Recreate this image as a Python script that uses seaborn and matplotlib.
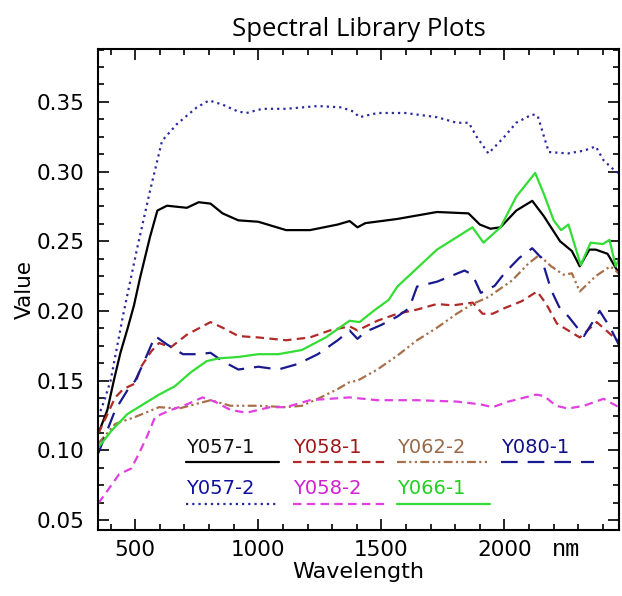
import numpy as np
import pandas as pd
import matplotlib.pyplot as plt
import seaborn as sns
from matplotlib.ticker import MultipleLocator

# spectra (wavelength nm, value)
wl_y057_1 = [350, 387, 413, 440, 470, 495, 520, 560, 590, 629, 710, 758, 806, 855, 919, 1000, 1113, 1210,
             1323, 1371, 1403, 1435, 1565, 1726, 1854, 1900, 1943, 1984, 2048, 2113, 2160, 2226, 2274,
             2306, 2345, 2371, 2419, 2465]
val_y057_1 = [0.112, 0.129, 0.150, 0.170, 0.188, 0.204, 0.224, 0.253, 0.272, 0.2755, 0.274, 0.278, 0.277,
              0.270, 0.265, 0.264, 0.258, 0.258, 0.262, 0.2645, 0.260, 0.263, 0.266, 0.271, 0.270, 0.262,
              0.259, 0.260, 0.272, 0.279, 0.268, 0.250, 0.243, 0.232, 0.244, 0.244, 0.241, 0.227]

wl_y058_1 = [350, 419, 452, 500, 524, 565, 597, 645, 710, 806, 855, 919, 1000, 1113, 1210, 1290, 1371,
             1403, 1484, 1565, 1645, 1726, 1790, 1871, 1911, 1952, 2000, 2070, 2133, 2170, 2213, 2306,
             2375, 2420, 2465]
val_y058_1 = [0.112, 0.138, 0.144, 0.148, 0.160, 0.171, 0.177, 0.174, 0.183, 0.192, 0.188, 0.182, 0.181,
              0.179, 0.181, 0.186, 0.189, 0.186, 0.193, 0.198, 0.201, 0.205, 0.204, 0.206, 0.198, 0.198,
              0.202, 0.207, 0.214, 0.205, 0.191, 0.181, 0.192, 0.185, 0.178]

wl_y062_2 = [350, 419, 500, 597, 677, 806, 887, 1000, 1113, 1177, 1242, 1323, 1371, 1403, 1484, 1565,
             1645, 1726, 1806, 1871, 1935, 2032, 2097, 2141, 2190, 2240, 2274, 2306, 2371, 2430, 2465]
val_y062_2 = [0.105, 0.119, 0.124, 0.131, 0.130, 0.136, 0.132, 0.132, 0.131, 0.132, 0.137, 0.144, 0.149,
              0.150, 0.158, 0.168, 0.179, 0.188, 0.198, 0.205, 0.210, 0.222, 0.234, 0.240, 0.232, 0.226,
              0.227, 0.214, 0.225, 0.232, 0.227]

wl_y080_1 = [350, 419, 468, 500, 532, 581, 629, 694, 758, 806, 855, 919, 1000, 1081, 1161, 1242, 1323,
             1371, 1403, 1435, 1500, 1565, 1613, 1645, 1726, 1838, 1870, 1904, 1960, 2000, 2060, 2113,
             2150, 2190, 2222, 2260, 2323, 2387, 2430, 2464]
val_y080_1 = [0.098, 0.129, 0.143, 0.150, 0.162, 0.182, 0.176, 0.169, 0.169, 0.170, 0.164, 0.158, 0.160,
              0.158, 0.162, 0.169, 0.179, 0.186, 0.180, 0.185, 0.190, 0.196, 0.202, 0.2175, 0.221, 0.229,
              0.226, 0.213, 0.218, 0.227, 0.238, 0.245, 0.238, 0.215, 0.203, 0.196, 0.182, 0.200, 0.188,
              0.176]

wl_y057_2 = [350, 375, 400, 452, 508, 560, 609, 669, 750, 800, 855, 919, 952, 1016, 1113, 1242, 1339,
             1387, 1411, 1484, 1597, 1726, 1806, 1855, 1887, 1935, 2000, 2048, 2113, 2135, 2180, 2258,
             2323, 2371, 2403, 2452, 2465]
val_y057_2 = [0.124, 0.136, 0.150, 0.198, 0.245, 0.286, 0.322, 0.334, 0.346, 0.351, 0.348, 0.343, 0.342,
              0.345, 0.345, 0.347, 0.346, 0.343, 0.339, 0.342, 0.342, 0.339, 0.335, 0.335, 0.325, 0.313,
              0.325, 0.335, 0.341, 0.340, 0.314, 0.313, 0.315, 0.318, 0.308, 0.300, 0.299]

wl_y058_2 = [350, 387, 435, 484, 516, 548, 581, 645, 710, 774, 823, 887, 952, 1048, 1113, 1210, 1371,
             1484, 1645, 1806, 1903, 1952, 2016, 2129, 2161, 2210, 2258, 2323, 2403, 2444, 2465]
val_y058_2 = [0.062, 0.071, 0.083, 0.087, 0.098, 0.110, 0.124, 0.129, 0.133, 0.138, 0.135, 0.129, 0.127,
              0.131, 0.131, 0.136, 0.138, 0.136, 0.136, 0.135, 0.133, 0.131, 0.135, 0.140, 0.139, 0.132,
              0.130, 0.132, 0.137, 0.133, 0.131]

wl_y066_1 = [350, 403, 468, 532, 597, 661, 726, 790, 839, 919, 1000, 1081, 1177, 1274, 1371, 1411, 1468,
             1530, 1565, 1726, 1870, 1915, 1984, 2048, 2125, 2160, 2200, 2230, 2260, 2310, 2350, 2400,
             2427, 2452, 2465]
val_y066_1 = [0.102, 0.114, 0.126, 0.133, 0.140, 0.146, 0.156, 0.164, 0.166, 0.167, 0.169, 0.169, 0.172,
              0.181, 0.193, 0.192, 0.200, 0.208, 0.2175, 0.244, 0.260, 0.249, 0.260, 0.282, 0.299, 0.284,
              0.265, 0.258, 0.262, 0.233, 0.249, 0.248, 0.251, 0.232, 0.237]

names = ['Y057-1', 'Y058-1', 'Y062-2', 'Y080-1', 'Y057-2', 'Y058-2', 'Y066-1']
waves = [wl_y057_1, wl_y058_1, wl_y062_2, wl_y080_1, wl_y057_2, wl_y058_2, wl_y066_1]
values = [val_y057_1, val_y058_1, val_y062_2, val_y080_1, val_y057_2, val_y058_2, val_y066_1]

colors = ['#000000', '#b02a2a', '#a8704a', '#1a1a90', '#2a2aa0', '#e040e0', '#33dd33']
dashes = [None, (3.8, 2.4), (4, 1.5, 1, 1.5, 1, 1.5), (7.5, 4.5), (1, 1.8), (3.8, 2.4), None]
txt_colors = ['#111111', '#a01818', '#9a6a48', '#10108a', '#1010a0', '#d020d0', '#20d020']

sns.set_theme(style='ticks')
plt.rcParams['font.family'] = ['DejaVu Sans']
plt.rcParams['text.color'] = 'black'
plt.rcParams['axes.labelcolor'] = 'black'
plt.rcParams['xtick.color'] = 'black'
plt.rcParams['ytick.color'] = 'black'

fig = plt.figure(figsize=(6.22, 5.96), dpi=100)
ax = fig.add_axes([0.158, 0.111, 0.837, 0.807])

for name, w, v, c, d in zip(names, waves, values, colors, dashes):
    df = pd.DataFrame({'Wavelength': w, 'Value': v})
    sns.lineplot(data=df, x='Wavelength', y='Value', ax=ax, color=c, lw=1.6,
                 estimator=None, sort=False)
    l = ax.get_lines()[-1]
    if d is not None:
        l.set_dashes(d)

ax.set_xlim(350, 2465)
ax.set_ylim(0.043, 0.388)
ax.xaxis.set_minor_locator(MultipleLocator(100))
ax.yaxis.set_minor_locator(MultipleLocator(0.0125))
ax.set_yticks([0.05, 0.10, 0.15, 0.20, 0.25, 0.30, 0.35])
ax.set_yticklabels(['0.05', '0.10', '0.15', '0.20', '0.25', '0.30', '0.35'])
ax.set_xticks([500, 1000, 1500, 2000])
ax.tick_params(which='both', top=True, right=True, direction='in', color='black', width=1.2)
ax.tick_params(which='major', length=8, labelsize=15.5)
ax.tick_params(axis='y', which='major', pad=10)
ax.tick_params(axis='x', which='major', pad=7)
ax.tick_params(which='minor', length=4.5)
for s in ax.spines.values():
    s.set_color('black')
    s.set_linewidth(1.5)

ax.set_xlabel('Wavelength', fontsize=16, labelpad=2)
ax.set_ylabel('Value', fontsize=15.5, labelpad=1)
ax.set_title('Spectral Library Plots', fontsize=18.5, pad=9, family='Open Sans')

# unit label next to the last tick label
ax.text(2250, -0.040, 'nm', transform=ax.get_xaxis_transform(), ha='center', va='center',
        fontsize=17, family='Liberation Mono')

# legend: name above a sample of the line
leg_x = [0.168, 0.374, 0.573, 0.773, 0.168, 0.374, 0.573]
leg_row = [0, 0, 0, 0, 1, 1, 1]
text_y = [0.172, 0.085]
line_y = [0.141, 0.054]
for i, name in enumerate(names):
    r = leg_row[i]
    ax.text(leg_x[i], text_y[r], name, transform=ax.transAxes, color=txt_colors[i],
            fontsize=14, ha='left', va='center')
    l, = ax.plot([leg_x[i], leg_x[i] + 0.179], [line_y[r], line_y[r]], transform=ax.transAxes,
                 color=colors[i], lw=1.6)
    if dashes[i] is not None:
        l.set_dashes(dashes[i])

fig.savefig('out.png', dpi=100)
